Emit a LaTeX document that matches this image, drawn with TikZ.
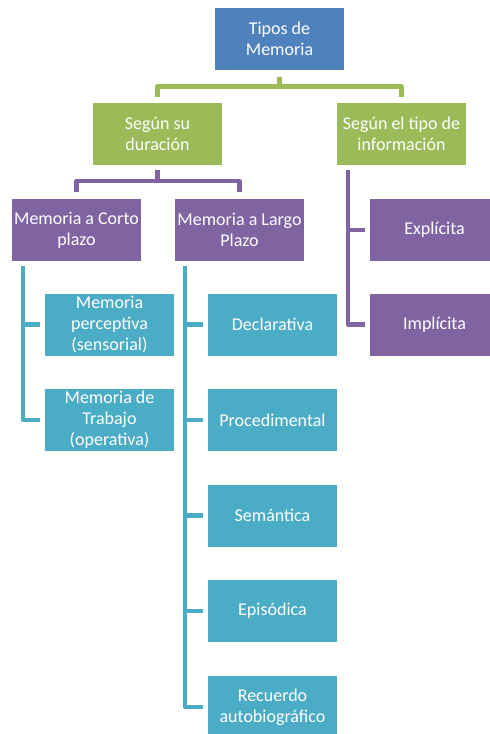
\documentclass[tikz,border=0pt]{standalone}
\usepackage{fontspec}
\setmainfont{Carlito}
\usetikzlibrary{calc}
\definecolor{tblue}{HTML}{4F81BD}
\definecolor{tgreen}{HTML}{9BBB59}
\definecolor{tpurple}{HTML}{8064A2}
\definecolor{tcyan}{HTML}{4BACC6}

\begin{document}
\begin{tikzpicture}[x=1pt,y=-1pt,
  every node/.style={shape=rectangle,minimum width=129pt,minimum height=62pt,inner sep=0pt,
    align=center,text=white,font=\fontsize{18}{21}\selectfont},
  conn/.style={line width=4.5pt,line join=round}]
  \useasboundingbox (0,0) rectangle (490,734);
  \path (279.5,38.5) node[fill=tblue] (root) {Tipos de\\Memoria}
  (157.5,134) node[fill=tgreen] (sdur) {Según su\\duración}
  (401.5,134) node[fill=tgreen] (stipo) {Según el tipo de\\información}
  (76.5,230) node[fill=tpurple] (corto) {Memoria a Corto\\plazo}
  (239.5,230) node[fill=tpurple] (largo) {Memoria a Largo\\Plazo}
  (434.5,230) node[fill=tpurple] (expl) {Explícita}
  (434.5,324.5) node[fill=tpurple] (impl) {Implícita}
  (109.5,324.5) node[fill=tcyan] (perc) {Memoria\\perceptiva\\(sensorial)}
  (109.5,420) node[fill=tcyan] (trab) {Memoria de\\Trabajo\\(operativa)};
  \foreach \n/\y/\t in {decl/324.5/Declarativa, proc/420/Procedimental, sem/515.5/Semántica,
    epi/611/Episódica, rec/707/{Recuerdo\\autobiográfico}}
    \node[fill=tcyan] (\n) at (272.5,\y) {\t};

  \draw[conn,tgreen] ([yshift=-7pt]root.south) -- ([yshift=-17pt]root.south);
  \draw[conn,tgreen] ([yshift=6pt]sdur.north) |- ([yshift=-17pt]root.south) -| ([yshift=6pt]stipo.north);
  \draw[conn,tpurple] ([yshift=-5pt]sdur.south) -- ([yshift=-16pt]sdur.south);
  \draw[conn,tpurple] ([yshift=7pt]corto.north) |- ([yshift=-16pt]sdur.south) -| ([yshift=7pt]largo.north);
  \foreach \c in {expl,impl}
    \draw[conn,tpurple] ([xshift=11pt,yshift=-5pt]stipo.south west) |- ([xshift=-5pt]\c.west);
  \foreach \c in {perc,trab}
    \draw[conn,tcyan] ([xshift=11pt,yshift=-5pt]corto.south west) |- ([xshift=-5pt]\c.west);
  \foreach \c in {decl,proc,sem,epi,rec}
    \draw[conn,tcyan] ([xshift=10pt,yshift=-5pt]largo.south west) |- ([xshift=-5pt]\c.west);
\end{tikzpicture}
\end{document}
